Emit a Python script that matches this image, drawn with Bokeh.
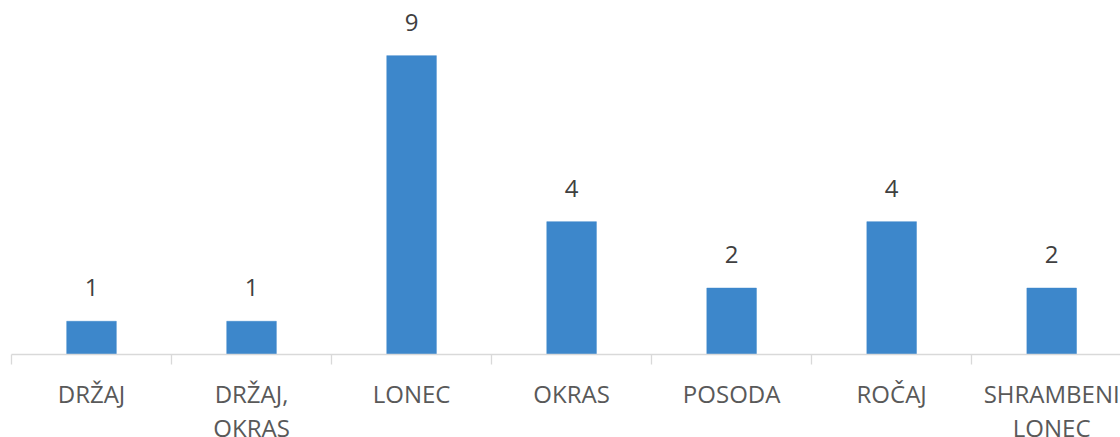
from bokeh.plotting import figure
from bokeh.models import Range1d, FixedTicker, LinearAxis, ColumnDataSource, LabelSet
from bokeh.core.properties import value
from bokeh.embed import file_html
from bokeh.resources import INLINE

categories = ["DRŽAJ", "DRŽAJ,\nOKRAS", "LONEC", "OKRAS", "POSODA", "ROČAJ", "SHRAMBENI\nLONEC"]
values = [1, 1, 9, 4, 2, 4, 2]

idx = list(range(len(categories)))
line1 = [c.split("\n")[0] for c in categories]
line2 = [c.split("\n")[1] if "\n" in c else "" for c in categories]

src = ColumnDataSource(dict(x=idx, top=values, lab=[str(v) for v in values]))

FONT = "Open Sans"

p = figure(width=1120, height=446, output_backend="svg", toolbar_location=None,
           x_range=Range1d(-0.5, 6.43), y_range=Range1d(0, 10.66),
           x_axis_location=None, y_axis_location=None,
           min_border_left=11, min_border_right=0, min_border_top=0, min_border_bottom=0)
p.outline_line_color = None
p.grid.visible = False
p.background_fill_color = "white"
p.border_fill_color = "white"

p.vbar(x="x", top="top", bottom=0, width=0.31, source=src,
       fill_color="#3d87cb", line_color="#3d87cb", line_width=0.5)

labels = LabelSet(x="x", y="top", text="lab", source=src, text_align="center",
                  text_baseline="bottom", y_offset=25, text_font=value(FONT),
                  text_font_size="24px", text_color="#404040")
p.add_layout(labels)

ax1 = LinearAxis(ticker=FixedTicker(ticks=idx, minor_ticks=[i - 0.5 for i in range(8)]))
ax1.major_label_overrides = {i: t for i, t in enumerate(line1)}
ax1.axis_line_color = "#d9d9d9"
ax1.axis_line_width = 1.3
ax1.major_tick_line_color = None
ax1.minor_tick_line_color = "#d9d9d9"
ax1.minor_tick_line_width = 1.3
ax1.minor_tick_in = 0
ax1.minor_tick_out = 10
ax1.major_tick_out = 10
ax1.major_tick_in = 0
ax1.major_label_standoff = 12
ax1.major_label_text_font = FONT
ax1.major_label_text_font_size = "24px"
ax1.major_label_text_color = "#595959"
p.add_layout(ax1, "below")

ax2 = LinearAxis(ticker=FixedTicker(ticks=idx))
ax2.major_label_overrides = {i: t for i, t in enumerate(line2)}
ax2.axis_line_color = None
ax2.major_tick_line_color = None
ax2.minor_tick_line_color = None
ax2.major_tick_out = 0
ax2.major_tick_in = 0
ax2.major_label_standoff = -2
ax2.major_label_text_font = FONT
ax2.major_label_text_font_size = "24px"
ax2.major_label_text_color = "#595959"
p.add_layout(ax2, "below")

open("out.html", "w").write(file_html(p, INLINE))
